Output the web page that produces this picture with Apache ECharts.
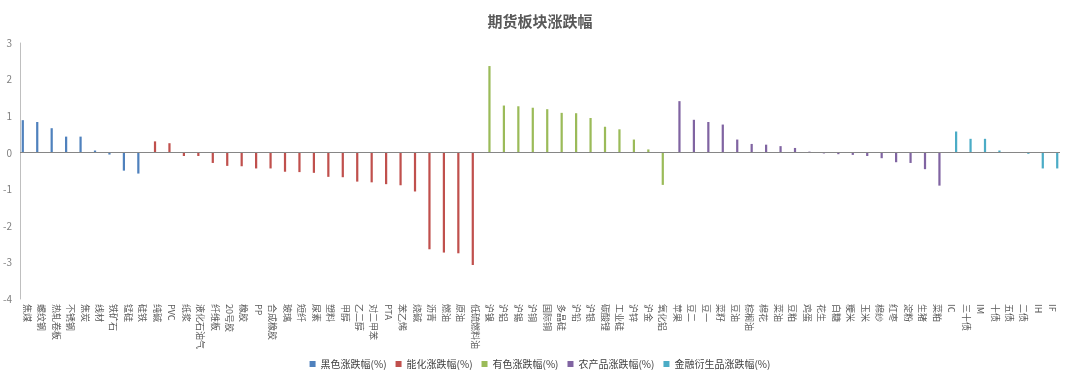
<!DOCTYPE html>
<html>
<head>
<meta charset="utf-8">
<script src="https://cdn.jsdelivr.net/npm/echarts@6/dist/echarts.min.js"></script>
<style>
  html, body { margin: 0; padding: 0; background: #ffffff; }
  #chart { width: 1080px; height: 377px; }
</style>
</head>
<body>
<div id="chart"></div>
<script>
const blackNames = ["焦煤", "螺纹钢", "热轧卷板", "不锈钢", "焦炭", "线材", "铁矿石", "锰硅", "硅铁"];
const blackValues = [0.89, 0.84, 0.67, 0.44, 0.44, 0.06, -0.05, -0.49, -0.57];

const chemNames = ["纯碱", "PVC", "纸浆", "液化石油气", "纤维板", "20号胶", "橡胶", "PP", "合成橡胶",
  "玻璃", "短纤", "尿素", "塑料", "甲醇", "乙二醇", "对二甲苯", "PTA", "苯乙烯", "烧碱",
  "沥青", "燃油", "原油", "低硫燃料油"];
const chemValues = [0.31, 0.26, -0.09, -0.09, -0.28, -0.36, -0.37, -0.43, -0.43,
  -0.52, -0.53, -0.55, -0.66, -0.67, -0.79, -0.81, -0.86, -0.89, -1.06,
  -2.64, -2.73, -2.75, -3.07];

const metalNames = ["沪镍", "沪铝", "沪锡", "沪铜", "国际铜", "多晶硅", "沪铅", "沪银", "碳酸锂",
  "工业硅", "沪锌", "沪金", "氧化铝"];
const metalValues = [2.37, 1.29, 1.27, 1.23, 1.19, 1.09, 1.08, 0.95, 0.71, 0.64, 0.36, 0.09, -0.88];

const agriNames = ["苹果", "豆二", "豆一", "菜籽", "豆油", "棕榈油", "棉花", "菜油", "豆粕", "鸡蛋",
  "花生", "白糖", "粳米", "玉米", "棉纱", "红枣", "淀粉", "生猪", "菜粕"];
const agriValues = [1.41, 0.90, 0.84, 0.77, 0.36, 0.24, 0.22, 0.18, 0.13, 0.03,
  -0.02, -0.04, -0.06, -0.09, -0.15, -0.26, -0.28, -0.45, -0.90];

const finNames = ["IC", "三十债", "IM", "十债", "五债", "二债", "IH", "IF"];
const finValues = [0.58, 0.38, 0.38, 0.06, 0.01, -0.03, -0.43, -0.43];

const seriesNames = ["黑色涨跌幅(%)", "能化涨跌幅(%)", "有色涨跌幅(%)", "农产品涨跌幅(%)", "金融衍生品涨跌幅(%)"];
const colors = ["#4f81bd", "#c0504d", "#9bbb59", "#8064a2", "#4bacc6"];

const groups = [blackValues, chemValues, metalValues, agriValues, finValues];
const categories = [].concat(blackNames, chemNames, metalNames, agriNames, finNames);

// each sector only fills its own slice of the category axis
let offset = 0;
const seriesData = groups.map((vals) => {
  const arr = new Array(categories.length).fill(null);
  vals.forEach((v, i) => { arr[offset + i] = v; });
  offset += vals.length;
  return arr;
});

const font = "'Noto Sans CJK SC', 'Noto Sans', sans-serif";
const chart = echarts.init(document.getElementById("chart"));

const series = seriesData.map((data, i) => {
  const s = {
    name: seriesNames[i],
    type: "bar",
    data: data,
    barGap: "0%",
    barCategoryGap: "23%",
    itemStyle: { color: colors[i] },
    animation: false,
  };
  if (i === 0) {
    s.markLine = {
      silent: true,
      symbol: "none",
      label: { show: false },
      lineStyle: { color: "#868686", width: 1, type: "solid" },
      data: [{ yAxis: 0 }],
    };
  }
  return s;
});

chart.setOption({
  backgroundColor: "#ffffff",
  textStyle: { fontFamily: font },
  title: {
    text: "期货板块涨跌幅",
    left: "center",
    top: 9,
    textStyle: { fontSize: 15, fontWeight: "bold", color: "#595959", fontFamily: font },
  },
  legend: {
    top: 354,
    left: "center",
    icon: "rect",
    itemWidth: 6,
    itemHeight: 6,
    itemGap: 9,
    textStyle: { fontSize: 10, color: "#404040", fontFamily: font },
  },
  grid: { left: 20, right: 20, top: 43, bottom: 78 },
  xAxis: {
    type: "category",
    data: categories,
    axisLine: { show: false },
    axisTick: { show: false },
    axisLabel: { interval: 0, rotate: -90, fontSize: 9, color: "#595959", margin: 5 },
  },
  yAxis: {
    type: "value",
    min: -4,
    max: 3,
    interval: 1,
    axisLine: { show: true, lineStyle: { color: "#bfbfbf", width: 1 } },
    axisTick: { show: false },
    splitLine: { show: false },
    axisLabel: { fontSize: 10, color: "#7f7f7f", margin: 8 },
  },
  series: series,
});
</script>
</body>
</html>
